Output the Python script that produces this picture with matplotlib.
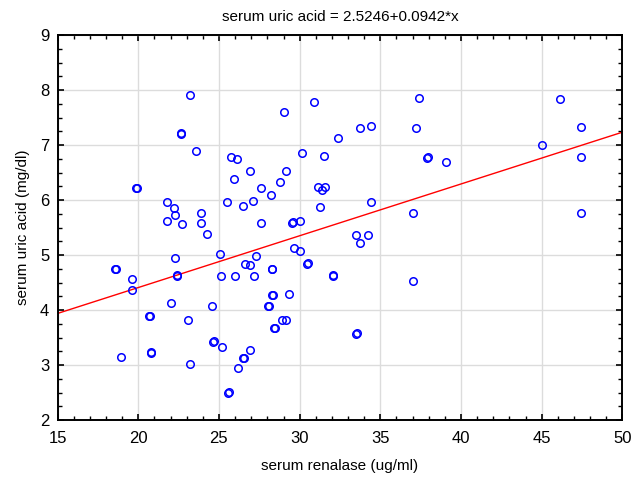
import numpy as np
import matplotlib
matplotlib.use("Agg")
import matplotlib.pyplot as plt
from matplotlib.ticker import MultipleLocator

# serum renalase (ug/ml) vs serum uric acid (mg/dl)
renalase = [
    23.22, 22.63, 22.68, 23.58, 25.74, 26.10, 29.04, 30.88, 32.35, 30.12,
    31.48, 26.92, 29.13, 25.93, 27.62, 28.78, 28.20, 31.15, 31.38, 31.60,
    31.24, 21.78, 22.21, 22.30, 21.78, 22.71, 23.89, 23.89, 24.24, 25.50,
    26.50, 27.10, 27.62, 29.54, 29.59, 30.00, 25.06, 27.27, 26.59, 26.94,
    29.64, 30.00, 30.47, 30.52, 28.26, 28.31, 22.30, 22.38, 22.43, 25.14,
    26.00, 27.19, 32.04, 32.09, 33.75, 34.45, 37.40, 37.22, 37.92, 37.97,
    39.08, 34.45, 37.03, 33.52, 34.24, 33.75, 37.04, 45.00, 46.10, 47.43,
    47.43, 47.43, 28.28, 28.33, 29.37, 28.03, 28.08, 28.88, 29.15, 28.43,
    28.48, 33.50, 33.55, 26.90, 18.56, 18.61, 19.59, 19.59, 20.69, 20.74,
    18.91, 20.77, 20.82, 22.03, 23.06, 23.20, 24.57, 24.65, 24.70, 25.17,
    26.50, 26.55, 26.16, 25.58, 25.63, 19.86, 19.91,
]
uric_acid = [
    7.91, 7.21, 7.22, 6.89, 6.79, 6.74, 7.61, 7.78, 7.13, 6.86,
    6.81, 6.52, 6.52, 6.39, 6.21, 6.32, 6.09, 6.24, 6.19, 6.24,
    5.87, 5.96, 5.86, 5.72, 5.61, 5.56, 5.76, 5.59, 5.39, 5.96,
    5.89, 5.99, 5.59, 5.59, 5.60, 5.61, 5.02, 4.99, 4.84, 4.82,
    5.12, 5.07, 4.84, 4.85, 4.74, 4.75, 4.94, 4.62, 4.63, 4.62,
    4.62, 4.62, 4.62, 4.63, 7.31, 7.34, 7.86, 7.31, 6.77, 6.78,
    6.69, 5.96, 5.76, 5.36, 5.36, 5.22, 4.52, 7.01, 7.84, 7.33,
    6.79, 5.76, 4.27, 4.28, 4.30, 4.07, 4.08, 3.82, 3.82, 3.67,
    3.68, 3.57, 3.58, 3.27, 4.74, 4.75, 4.56, 4.37, 3.89, 3.90,
    3.15, 3.22, 3.23, 4.12, 3.82, 3.02, 4.07, 3.42, 3.43, 3.32,
    3.12, 3.13, 2.94, 2.50, 2.51, 6.21, 6.22,
]
intercept, slope = 2.5246, 0.0942

plt.rcParams["font.family"] = ["Liberation Sans", "DejaVu Sans"]

fig = plt.figure(figsize=(6.44, 4.83), dpi=100)
ax = fig.add_axes([0.0893, 0.1304, 0.8773, 0.797])

ax.grid(True, color="#dcdcdc", lw=1.0, zorder=0)
ax.set_axisbelow(True)

xl = np.array([15, 50])
ax.plot(xl, intercept + slope * xl, color="red", lw=1.0, zorder=2)
ax.plot(renalase, uric_acid, ls="none", marker="o", ms=5.4, mfc="none",
        mec="#0000ff", mew=1.1, zorder=3)

ax.set_xlim(15, 50)
ax.set_ylim(2, 9)
ax.xaxis.set_major_locator(MultipleLocator(5))
ax.xaxis.set_minor_locator(MultipleLocator(1))
ax.yaxis.set_major_locator(MultipleLocator(1))
ax.yaxis.set_minor_locator(MultipleLocator(0.25))
ax.tick_params(which="both", direction="in", top=True, right=True,
               labelsize=12, colors="black")
ax.tick_params(which="major", length=4, width=1.2)
ax.tick_params(which="minor", length=3, width=1.0)
ax.tick_params(axis="x", which="major", pad=8)
ax.tick_params(axis="y", which="major", pad=6)
for s in ax.spines.values():
    s.set_linewidth(1.4)

ax.set_xlabel("serum renalase (ug/ml)", fontsize=11, labelpad=9)
ax.set_ylabel("serum uric acid (mg/dl)", fontsize=11, labelpad=7)
ax.set_title("serum uric acid = 2.5246+0.0942*x", fontsize=11, pad=10)

fig.savefig("out.png", dpi=100)
